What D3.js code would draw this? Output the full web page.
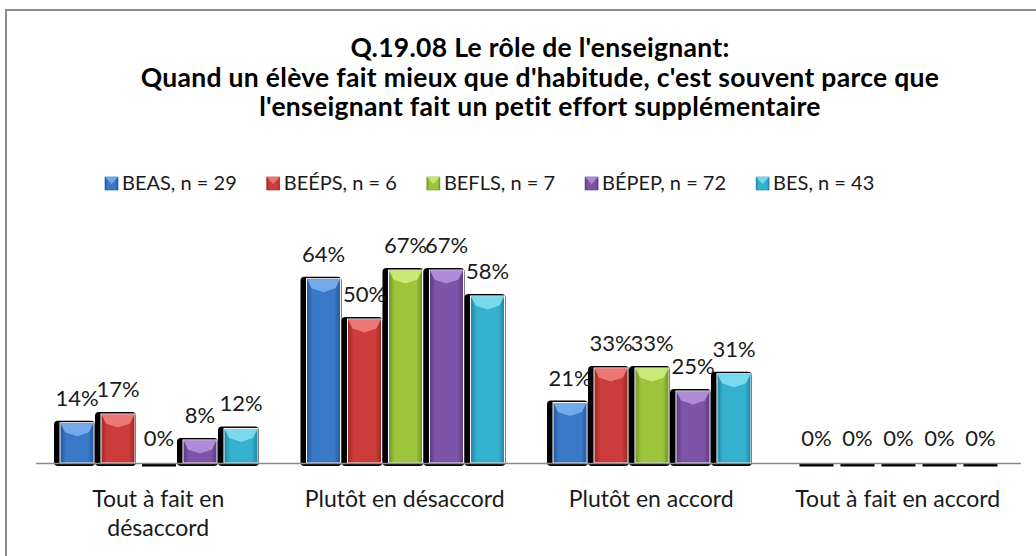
<!doctype html>
<html lang="fr">
<head>
    <meta charset="utf-8">
    <title>Q.19.08 Le rôle de l'enseignant</title>
    <script src="https://unpkg.com/d3@7/dist/d3.min.js"></script>
    <style>
        body { margin: 0; background: #fff; }
        svg { display: block; font-family: Lato, "Open Sans", sans-serif; }
    </style>
</head>
<body>
<svg id="chart" width="1036" height="556"></svg>
<script>
    // données
    var categories = [["Tout à fait en", "désaccord"], ["Plutôt en désaccord"], ["Plutôt en accord"], ["Tout à fait en accord"]];
    var series = ["BEAS, n = 29", "BEÉPS, n = 6", "BEFLS, n = 7", "BÉPEP, n = 72", "BES, n = 43"];
    var beas = [14, 64, 21, 0];
    var beeps = [17, 50, 33, 0];
    var befls = [0, 67, 33, 0];
    var bepep = [8, 67, 25, 0];
    var bes = [12, 58, 31, 0];
    var titleLines = ["Q.19.08 Le rôle de l'enseignant:",
        "Quand un élève fait mieux que d'habitude, c'est souvent parce que",
        "l'enseignant fait un petit effort supplémentaire"];

    var values = [beas, beeps, befls, bepep, bes];
    var colors = [
        { base: "#3a78c8", light: "#7fb2f0", dark: "#24579c" },
        { base: "#cc3c3a", light: "#f08282", dark: "#9a2826" },
        { base: "#9cc43c", light: "#d0f080", dark: "#6f9224" },
        { base: "#7e54a8", light: "#b794e0", dark: "#5a3880" },
        { base: "#36b0cf", light: "#86e0f4", dark: "#1f84a0" }
    ];

    var svg = d3.select("#chart");
    var defs = svg.append("defs");

    colors.forEach(function (c, i) {
        var g = defs.append("linearGradient").attr("id", "side" + i)
            .attr("x1", 0).attr("x2", 1).attr("y1", 0).attr("y2", 0);
        g.append("stop").attr("offset", "0%").attr("stop-color", c.dark);
        g.append("stop").attr("offset", "18%").attr("stop-color", c.base);
        g.append("stop").attr("offset", "82%").attr("stop-color", c.base);
        g.append("stop").attr("offset", "100%").attr("stop-color", c.dark);
    });

    // cadre
    svg.append("rect")
        .attr("x", 6).attr("y", 10).attr("width", 1100).attr("height", 600)
        .attr("fill", "none").attr("stroke", "#8c8c8c").attr("stroke-width", 2);

    // titre
    svg.append("g").selectAll("text")
        .data(titleLines)
        .enter().append("text")
        .attr("x", 540)
        .attr("y", function (d, i) { return 57 + i * 29.5; })
        .attr("text-anchor", "middle")
        .style("font-size", "26.5px").style("font-weight", "bold").style("fill", "#000")
        .style("letter-spacing", "0.3px")
        .text(function (d) { return d; });

    // légende
    var legend = svg.append("g");
    var lx = 105;
    series.forEach(function (s, i) {
        var item = legend.append("g");
        item.append("rect")
            .attr("x", lx).attr("y", 177).attr("width", 13).attr("height", 13)
            .attr("fill", "url(#side" + i + ")")
            .attr("stroke", colors[i].dark).attr("stroke-width", 0.6);
        item.append("path")
            .attr("d", "M" + lx + ",177 L" + (lx + 13) + ",177 L" + (lx + 6.5) + ",184 Z")
            .attr("fill", colors[i].light).attr("opacity", 0.8);
        var t = item.append("text")
            .attr("x", lx + 17).attr("y", 190)
            .style("font-size", "20px").style("fill", "#1a1a1a")
            .text(s);
        lx += 17 + t.node().getComputedTextLength() + 30;
    });

    // échelles
    var x0 = d3.scaleBand().domain(d3.range(categories.length)).range([35, 1021]);
    var x1 = d3.scaleBand().domain(d3.range(series.length)).range([25, 223]).paddingInner(0.17);
    var y = d3.scaleLinear().domain([0, 70]).range([463, 261.4]);

    var data = [];
    categories.forEach(function (c, ci) {
        series.forEach(function (s, si) {
            data.push({ c: ci, s: si, v: values[si][ci] });
        });
    });

    var bars = svg.append("g").selectAll("g")
        .data(data)
        .enter().append("g")
        .attr("transform", function (d) { return "translate(" + (x0(d.c) + x1(d.s)) + ",0)"; });

    var bw = x1.bandwidth();

    // ombre
    bars.append("rect")
        .attr("x", function (d) { return d.v > 0 ? -6 : 0; })
        .attr("y", function (d) { return d.v > 0 ? y(d.v) - 2 : y(0) + 1; })
        .attr("width", function (d) { return d.v > 0 ? bw + 7 : bw; })
        .attr("height", function (d) { return d.v > 0 ? y(0) - y(d.v) + 5 : 2.5; })
        .attr("rx", function (d) { return d.v > 0 ? 4 : 0; })
        .attr("fill", "#000");

    // barre
    bars.filter(function (d) { return d.v > 0; }).append("rect")
        .attr("x", 0).attr("y", function (d) { return y(d.v); })
        .attr("width", bw)
        .attr("height", function (d) { return y(0) - y(d.v); })
        .attr("fill", function (d) { return "url(#side" + d.s + ")"; })
        .attr("stroke", "#fff").attr("stroke-width", 1);

    // biseau du haut
    bars.filter(function (d) { return d.v > 0; }).append("path")
        .attr("d", function (d) {
            var t = y(d.v) + 0.5, b = t + 9;
            return "M0.5," + t + " L" + (bw - 0.5) + "," + t + " L" + (bw - 5) + "," + b +
                " L" + (bw / 2) + "," + (b + 4) + " L5," + b + " Z";
        })
        .attr("fill", function (d) { return colors[d.s].light; })
        .attr("opacity", 0.85);

    // axe
    svg.append("line")
        .attr("x1", 36).attr("x2", 1021).attr("y1", 463.5).attr("y2", 463.5)
        .attr("stroke", "#8c8c8c").attr("stroke-width", 1.5);

    // étiquettes
    svg.append("g").selectAll("text")
        .data(data)
        .enter().append("text")
        .attr("x", function (d) { return x0(d.c) + x1(d.s) + bw / 2; })
        .attr("y", function (d) { return y(d.v) - 17; })
        .attr("text-anchor", "middle")
        .style("font-size", "22px").style("fill", "#1a1a1a")
        .text(function (d) { return d.v + "%"; });

    // catégories
    var cat = svg.append("g").selectAll("text")
        .data(categories)
        .enter().append("text")
        .attr("x", function (d, i) { return x0(i) + x0.bandwidth() / 2; })
        .attr("y", 507)
        .attr("text-anchor", "middle")
        .style("font-size", "23px").style("fill", "#1a1a1a");
    cat.selectAll("tspan")
        .data(function (d) { return d; })
        .enter().append("tspan")
        .attr("x", function () { return d3.select(this.parentNode).attr("x"); })
        .attr("dy", function (d, i) { return i === 0 ? 0 : 29; })
        .text(function (d) { return d; });
</script>
</body>
</html>
